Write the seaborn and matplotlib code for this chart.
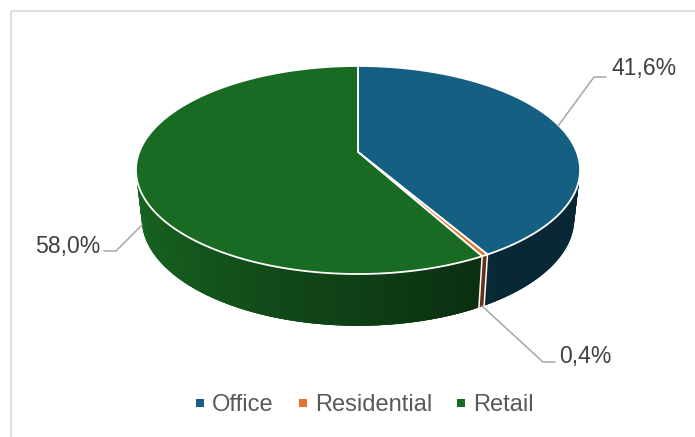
import numpy as np
import matplotlib
matplotlib.use("Agg")
import matplotlib.pyplot as plt
from matplotlib.lines import Line2D
import seaborn as sns

# Data
categories = ["Office", "Residential", "Retail"]
shares = [41.6, 0.4, 58.0]
share_labels = ["41,6%", "0,4%", "58,0%"]
colors = ["#156082", "#E97132", "#196B24"]

sns.set_theme(style="white")
plt.rcParams["font.family"] = ["Liberation Sans", "DejaVu Sans"]
palette = sns.color_palette(colors)

fig = plt.figure(figsize=(6.95, 4.37), dpi=100, facecolor="white")
ax = fig.add_axes([0, 0, 1, 1])
ax.set_xlim(0, 695)
ax.set_ylim(437, 0)
ax.axis("off")

# Chart frame (only top and left show in the crop)
ax.plot([10.5, 695], [10.5, 10.5], color="#dedede", lw=1.5, solid_capstyle="butt")
ax.plot([10.5, 10.5], [10.5, 437], color="#dedede", lw=1.5, solid_capstyle="butt")

# Perspective of the tilted disc
cx = 358
tilt = 0.173


def ring(theta, apex_y, radius, scale):
    u, v = np.sin(theta), np.cos(theta)
    w = 1 + tilt * v
    return cx + radius * u / w, apex_y - scale * v / w


def top_ring(theta):
    return ring(theta, 152, 218.7, 100.9)


def low_ring(theta):
    return ring(theta, 200, 213, 104)


def shade(theta):
    return np.interp(np.sin(theta), [-1, -0.3, 0.55, 1], [0.93, 0.68, 0.42, 0.40])


edges = np.radians(np.cumsum([0] + shares) * 3.6)

# Side wall, thin overlapping strips for the shading so no seams show
for i in range(len(shares)):
    n = max(int(np.degrees(edges[i + 1] - edges[i]) / 0.5), 2)
    steps = np.linspace(edges[i], edges[i + 1], n + 1)
    for k in range(n):
        a = steps[k]
        b = steps[min(k + 3, n)]
        xa, ya = top_ring(a)
        xb, yb = top_ring(b)
        xc, yc = low_ring(b)
        xd, yd = low_ring(a)
        c = tuple(np.array(palette[i]) * shade(a))
        ax.fill([xa, xb, xc, xd], [ya, yb, yc, yd], facecolor=c, edgecolor="none", lw=0)

# Separators on the wall
for e in edges[1:3]:
    xt, yt = top_ring(e)
    xl, yl = low_ring(e)
    ax.plot([xt, xl], [yt, yl], color="white", lw=1.1)

# Top face
for i in range(len(shares)):
    t = np.linspace(edges[i], edges[i + 1], 200)
    x, y = top_ring(t)
    ax.fill(np.r_[cx, x], np.r_[152, y], facecolor=palette[i], edgecolor="white", lw=1.3, joinstyle="round")

# Leader lines
ax.plot([558, 594, 606], [126, 77, 77], color="#a6a6a6", lw=1.1)
ax.plot([482, 543, 555], [306, 362, 362], color="#a6a6a6", lw=1.1)
ax.plot([142, 116, 104], [225, 251, 251], color="#a6a6a6", lw=1.1)

# Data labels
label_pos = [(612, 69), (559, 357), (35, 247)]
for text, (lx, ly) in zip(share_labels, label_pos):
    ax.text(lx, ly, text, fontsize=16.6, color="#404040", ha="left", va="center")

# Legend
handles = [Line2D([], [], ls="", marker="s", ms=5.8, mew=0, color=palette[i]) for i in range(3)]
ax.legend(handles, categories, ncol=3, loc="center", bbox_to_anchor=(364 / 695, 1 - 405 / 437),
          frameon=False, fontsize=17, labelcolor="#595959", handlelength=0.5,
          handletextpad=0.25, columnspacing=0.98, borderpad=0)

fig.savefig("out.png", dpi=100)
